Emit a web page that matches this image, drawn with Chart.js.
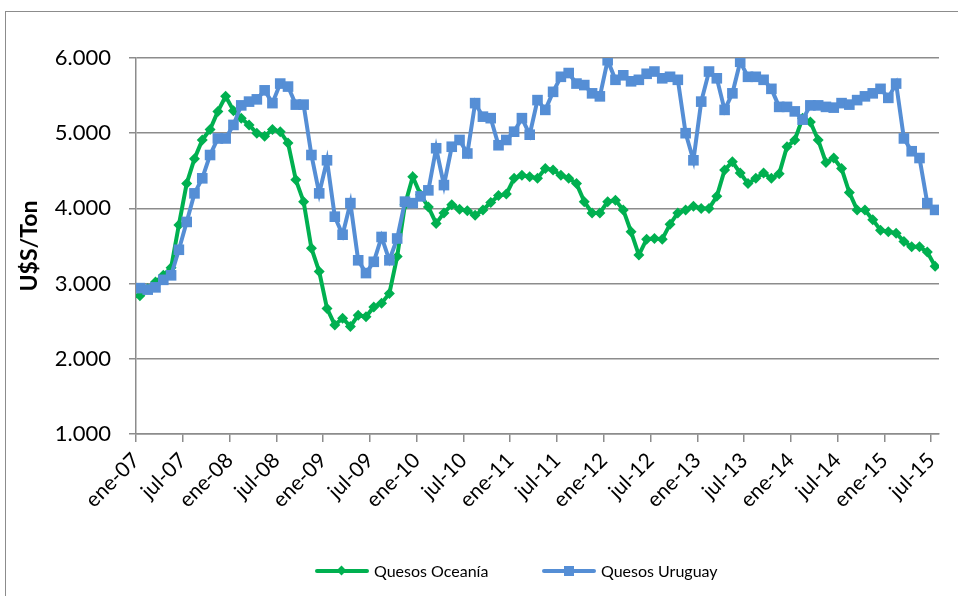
<!DOCTYPE html>
<html>
<head>
<meta charset="utf-8">
<script src="https://cdn.jsdelivr.net/npm/chart.js@4.4.1/dist/chart.umd.min.js"></script>
<style>
  html, body { margin: 0; padding: 0; background: #fff; }
  #wrap { position: relative; width: 958px; height: 596px; overflow: hidden; font-family: Lato, "Open Sans", sans-serif; }
  #frame { position: absolute; left: 5px; top: 11px; width: 1000px; height: 700px; border: 1px solid #8c8c8c; }
  #c { position: absolute; left: 0; top: 0; }
  .item { position: absolute; top: 560px; height: 22px; font-size: 16px; color: #000; white-space: nowrap; }
  .item .line { position: absolute; left: 0; top: 9px; width: 54px; height: 4px; border-radius: 2px; }
  .item .mark { position: absolute; }
  .item .txt { position: absolute; left: 59px; top: 1px; }
</style>
</head>
<body>
<div id="wrap">
  <div id="frame"></div>
  <canvas id="c" width="958" height="596"></canvas>
  <div class="item" style="left:315px">
    <span class="line" style="background:#00b050"></span>
    <span class="mark" style="left:23px;top:7px;width:7px;height:7px;background:#00b050;transform:rotate(45deg)"></span>
    <span class="txt">Quesos Oceanía</span>
  </div>
  <div class="item" style="left:542px">
    <span class="line" style="background:#558ed5"></span>
    <span class="mark" style="left:22px;top:6px;width:10px;height:10px;background:#558ed5"></span>
    <span class="txt">Quesos Uruguay</span>
  </div>
</div>
<script>
// etiquetas del eje x (cada 6 meses)
const tickLabels = ['ene-07', 'jul-07', 'ene-08', 'jul-08', 'ene-09', 'jul-09', 'ene-10', 'jul-10', 'ene-11',
    'jul-11', 'ene-12', 'jul-12', 'ene-13', 'jul-13', 'ene-14', 'jul-14', 'ene-15', 'jul-15'];
const totalMonths = 103; // ene-07 .. jul-15

// U$S/Ton, mensual desde ene-07
const quesosOceania = [
    2840, 2930, 3020, 3110, 3210, 3780, 4330, 4660, 4910, 5050,
    5290, 5490, 5300, 5200, 5110, 5000, 4960, 5050, 5020, 4870,
    4380, 4090, 3470, 3160, 2670, 2450, 2540, 2430, 2580, 2560,
    2690, 2740, 2870, 3360, 4050, 4420, 4180, 4020, 3800, 3940,
    4050, 3990, 3970, 3910, 3980, 4080, 4170, 4190, 4400, 4440,
    4420, 4400, 4530, 4510, 4440, 4400, 4330, 4090, 3940, 3940,
    4090, 4110, 3980, 3690, 3380, 3590, 3600, 3590, 3790, 3940,
    3980, 4030, 4000, 4000, 4160, 4510, 4620, 4470, 4330, 4400,
    4470, 4400, 4460, 4820, 4910, 5200, 5150, 4910, 4610, 4670,
    4530, 4210, 3980, 3980, 3850, 3710, 3690, 3670, 3560, 3490,
    3490, 3420, 3230
];
const quesosUruguay = [
    2940, 2920, 2950, 3050, 3110, 3450, 3820, 4200, 4400, 4710,
    4930, 4930, 5110, 5370, 5420, 5450, 5570, 5400, 5660, 5620,
    5380, 5380, 4710, 4200, 4640, 3890, 3650, 4070, 3310, 3140,
    3290, 3620, 3310, 3600, 4090, 4070, 4160, 4240, 4800, 4310,
    4820, 4910, 4730, 5400, 5220, 5200, 4840, 4910, 5020, 5200,
    4980, 5440, 5310, 5550, 5750, 5800, 5660, 5640, 5530, 5490,
    5970, 5710, 5770, 5690, 5710, 5790, 5820, 5730, 5750, 5710,
    5000, 4640, 5420, 5820, 5730, 5310, 5530, 5950, 5750, 5750,
    5710, 5590, 5350, 5350, 5290, 5180, 5370, 5370, 5350, 5340,
    5400, 5380, 5440, 5490, 5530, 5590, 5470, 5660, 4930, 4760,
    4670, 4070, 3980
];

// cada punto va centrado en su mes
function toPoints(arr) {
    return arr.map((v, i) => ({x: i + 0.5, y: v}));
}

function fmt(v) {
    return String(v).replace(/\B(?=(\d{3})+(?!\d))/g, '.');
}

const gridColor = '#8c8c8c';

new Chart(document.getElementById('c'), {
    type: 'line',
    data: {
        datasets: [{
            label: 'Quesos Oceanía',
            data: toPoints(quesosOceania),
            borderColor: '#00b050',
            backgroundColor: '#00b050',
            borderWidth: 4,
            pointStyle: 'rectRot',
            pointRadius: 5.5,
            pointBorderWidth: 0,
            pointBackgroundColor: '#00b050',
            order: 1
        }, {
            label: 'Quesos Uruguay',
            data: toPoints(quesosUruguay),
            borderColor: '#558ed5',
            backgroundColor: '#558ed5',
            borderWidth: 4,
            pointStyle: 'rect',
            pointRadius: 7.5,
            pointBorderWidth: 0,
            pointBackgroundColor: '#558ed5',
            order: 0
        }]
    },
    options: {
        responsive: false,
        animation: false,
        devicePixelRatio: 1,
        layout: {padding: {top: 58, right: 19, bottom: 0, left: 0}},
        plugins: {
            legend: {display: false},
            tooltip: {enabled: false}
        },
        scales: {
            x: {
                type: 'linear',
                min: 0,
                max: totalMonths,
                afterBuildTicks: function (axis) {
                    axis.ticks = tickLabels.map((_, k) => ({value: k * 6}));
                },
                afterFit: function (scale) { scale.height = 162; },
                ticks: {
                    autoSkip: false,
                    minRotation: 45,
                    maxRotation: 45,
                    padding: 6,
                    color: '#000',
                    font: {family: 'Lato', size: 21},
                    callback: function (value, index) { return tickLabels[index]; }
                },
                grid: {
                    drawOnChartArea: false,
                    color: gridColor,
                    lineWidth: 1.5,
                    tickLength: 8
                },
                border: {color: gridColor, width: 1.5}
            },
            y: {
                min: 1000,
                max: 6000,
                afterFit: function (scale) { scale.width = 136; },
                ticks: {
                    stepSize: 1000,
                    padding: 18,
                    color: '#000',
                    font: {family: 'Lato', size: 22},
                    callback: function (v) { return fmt(v); }
                },
                grid: {
                    color: gridColor,
                    lineWidth: 1.5,
                    tickLength: 7
                },
                border: {color: gridColor, width: 1.5},
                title: {
                    display: true,
                    text: 'U$S/Ton',
                    color: '#000',
                    padding: {top: 16, bottom: 0},
                    font: {family: 'Lato', size: 23, weight: 'bold'}
                }
            }
        }
    }
});
</script>
</body>
</html>
